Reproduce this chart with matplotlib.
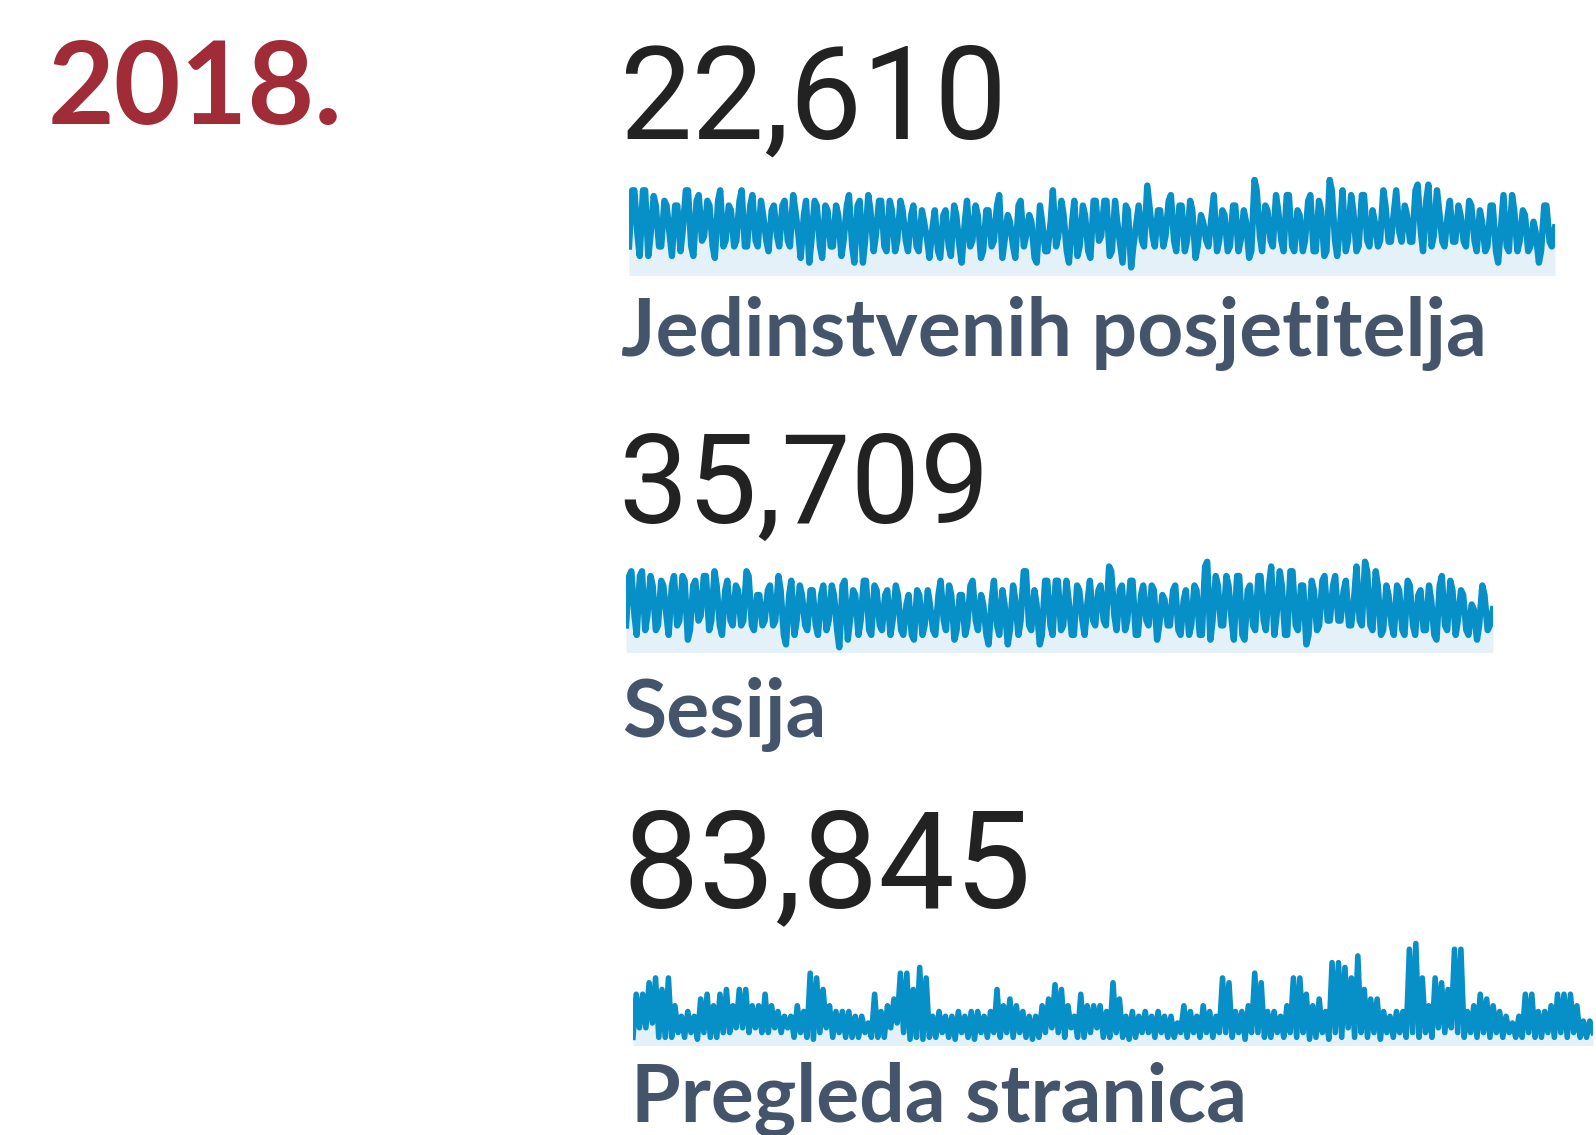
import matplotlib
matplotlib.use("Agg")
import matplotlib.pyplot as plt
import numpy as np

W, H = 1596, 1135

year_label = "2018."
totals = ["22,610", "35,709", "83,845"]
metric_names = ["Jedinstvenih posjetitelja", "Sesija", "Pregleda stranica"]

# sparklines: top / bottom of the line
# in each pixel column (relative height above the baseline)
visitors_hi = [86, 86, 86, 86, 80, 70, 75, 70, 70, 70, 86, 86, 75, 81, 75, 70, 75, 86, 70, 65,
               75, 86, 70, 81, 75, 60, 65, 70, 70, 75, 81, 65, 60, 75, 75, 70, 70, 65, 70, 60,
               70, 81, 70, 75, 81, 65, 75, 75, 75, 65, 75, 65, 60, 70, 65, 53, 48, 65, 60, 65,
               70, 60, 53, 75, 70, 60, 65, 65, 70, 81, 60, 53, 70, 75, 60, 53, 70, 53, 53, 86,
               75, 60, 53, 75, 70, 60, 75, 75,
               75, 75, 75, 53, 70, 65, 53, 70, 91, 70, 65, 65, 75, 81, 70, 70, 75, 65, 60, 53,
               60, 81, 65, 60, 70, 70, 65, 53, 97, 86, 70, 65, 81, 65, 81, 81, 65, 60, 75, 81,
               75, 65, 97, 86, 53, 86, 81, 65, 81, 81, 65, 53, 86, 70, 65, 86, 70, 60, 86, 92,
               75, 92, 86, 65, 60, 75, 70, 60, 75, 70, 65, 53, 70, 70, 53, 81, 81, 65, 65, 60,
               53, 42, 70, 70, 47]
visitors_lo = [27, 38, 17, 17, 38, 27, 27, 38, 17, 22, 43, 27, 17, 33, 38, 27, 15, 27, 33, 27,
               33, 27, 27, 33, 27, 33, 22, 38, 27, 33, 27, 38, 15, 10, 33, 27, 15, 27, 27, 17,
               33, 27, 10, 10, 33, 22, 38, 27, 22, 22, 33, 33, 22, 27, 22, 33, 15, 22, 15, 27,
               17, 27, 10, 27, 33, 15, 22, 27, 33, 15, 33, 27, 15, 27, 38, 15, 10, 22, 22, 27,
               38, 22, 10, 17, 27, 22, 15, 33,
               38, 17, 22, 27, 10, 5, 27, 33, 27, 38, 27, 27, 38, 33, 22, 22, 33, 15, 27, 33,
               27, 22, 33, 22, 27, 22, 33, 15, 22, 38, 22, 33, 27, 33, 22, 27, 22, 22, 33, 22,
               22, 17, 22, 33, 17, 22, 33, 22, 27, 33, 27, 27, 33, 32, 32, 42, 32, 32, 32, 42,
               22, 27, 38, 32, 27, 32, 32, 32, 27, 33, 22, 22, 27, 22, 10, 27, 22, 22, 32, 22,
               27, 10, 22, 32, 27]

sessions_hi = [77, 82, 77, 82, 77, 67, 72, 67, 67, 77, 77, 72, 67, 72, 77, 77, 82, 67, 62, 72,
               67, 62, 82, 77, 57, 57, 62, 67, 77, 62, 57, 72, 67, 57, 62, 62, 57, 67, 67, 57,
               67, 72, 62, 57, 72, 72, 67, 62, 57, 62, 67, 57, 47, 57, 62, 57, 62, 47, 57, 72,
               67, 57, 57, 57, 67, 72, 57, 47, 52, 72, 62, 47, 67, 52, 82, 82, 62, 47, 72, 72,
               72, 72, 72, 52, 67, 62, 52, 72, 62, 67, 87, 82, 62, 67, 72, 72, 57, 67, 67, 62,
               57, 52, 62, 67, 52, 62, 67, 62, 87, 92, 77, 67, 77, 67, 77, 77, 62, 67, 77, 77,
               67, 87, 82, 67, 82, 82, 67, 67, 72, 62, 72, 77, 67, 77, 62, 72, 57, 87, 92, 82,
               82, 67, 67, 57, 67, 62, 72, 67, 57, 62, 67, 52, 67, 77, 72, 62, 62, 57, 47, 42,
               67, 57, 42]
sessions_lo = [25, 35, 15, 20, 35, 20, 25, 35, 15, 25, 30, 10, 20, 30, 35, 20, 30, 25, 15, 30,
               25, 25, 30, 25, 20, 25, 30, 25, 30, 15, 5, 15, 30, 25, 20, 25, 15, 20, 30, 20,
               2, 10, 30, 15, 30, 20, 15, 25, 20, 15, 30, 20, 15, 15, 10, 15, 25, 20, 15, 30,
               20, 10, 20, 15, 25, 30, 20, 15, 5, 25, 15, 5, 20, 15, 30, 25, 20, 5, 15, 25,
               15, 20, 25, 15, 15, 30, 15, 30, 25, 30, 25, 35, 20, 20, 30, 15, 15, 30, 25, 10,
               25, 25, 25, 20, 15, 15, 25, 15, 15, 10, 30, 25, 25, 30, 10, 15, 10, 25, 20, 30,
               20, 15, 35, 15, 15, 25, 20, 5, 15, 20, 25, 30, 30, 30, 30, 25, 25, 30, 25, 25,
               20, 15, 20, 25, 15, 20, 15, 25, 15, 20, 20, 15, 10, 25, 20, 15, 30, 20, 15, 10,
               25, 20, 25]

# page views are spikier, read as a plain zig-zag
pageviews = [5, 50, 15, 50, 15, 62, 20, 67, 5, 55, 5, 67, 5, 38, 10, 27, 5, 32, 10, 27, 3, 45,
             10, 50, 5, 38, 5, 50, 10, 55, 10, 38, 15, 55, 15, 55, 10, 38, 15, 38, 10, 50, 10, 38,
             15, 32, 10, 27, 15, 27, 5, 38, 10, 32, 5, 72, 3, 67, 10, 55, 15, 38, 5, 32, 10, 32, 5,
             32, 5, 27, 5, 27, 10, 20, 5, 50, 5, 32, 5, 38, 15, 45, 20, 72, 10, 72, 3, 55, 5, 78, 3,
             67, 5, 27, 5, 32, 10, 27, 5, 27, 3, 32, 10, 27, 5, 32, 3, 32, 10, 27, 5, 32, 10, 55, 5,
             38, 10, 45, 5, 38, 10, 32, 5, 27, 3, 27, 5, 38, 10, 45, 15, 60, 10, 55, 5, 38, 15, 27,
             5, 50, 5, 38, 10,
             38, 15, 38, 5, 32, 5, 62, 10, 45, 5, 27, 3, 32, 5, 27, 10, 32, 10, 27, 5, 32, 10, 27,
             5, 27, 5, 20, 10, 38, 5, 32, 10, 27, 5, 38, 10, 32, 5, 27, 10, 67, 10, 62, 5, 32, 10,
             32, 3, 38, 10, 72, 10, 62, 5, 32, 5, 32, 10, 27, 5, 38, 10, 67, 5, 67, 10, 50, 3, 38,
             5, 45, 10, 32, 3, 83, 10, 83, 5, 78, 15, 67, 5, 90, 10, 55, 5, 45, 10, 45, 3, 32, 10,
             27, 5, 32, 10, 32, 5, 97, 10, 103, 5, 67, 10, 38, 5, 67, 15, 62, 10, 55, 15, 97, 10,
             97, 5, 32, 10, 38, 5, 50, 10, 45, 5, 38, 10, 32, 5, 27, 10, 20, 5, 27, 5, 50, 10, 50,
             5, 32, 5, 32, 10, 38, 5, 50, 10, 50, 5, 50, 10, 38, 5, 22, 5, 22, 10]

LINE_COLOR = "#078fc8"
FILL_COLOR = "#e4f1f8"
LABEL_COLOR = "#44546a"
YEAR_COLOR = "#a02c37"


def px_axes(fig, x0, y0, x1, y1):
    # pixel box (top-left origin) -> figure axes
    return fig.add_axes([x0 / W, 1 - y1 / H, (x1 - x0) / W, (y1 - y0) / H])


def px_text(fig, x, y, s, **kw):
    fig.text(x / W, 1 - y / H, s, ha="left", va="baseline", **kw)


def column_path(hi, lo):
    # walk each column lo->hi or hi->lo, alternating, so the stroke stays connected
    xs, ys = [], []
    for i in range(len(hi)):
        a, b = (lo[i], hi[i]) if i % 2 == 0 else (hi[i], lo[i])
        xs += [i + 0.2, i + 0.8]
        ys += [a, b]
    return np.array(xs), np.array(ys)


def sparkline(fig, box, x, vals, ytop, lw):
    ax = px_axes(fig, *box)
    ax.fill_between(x, vals, -5, color=FILL_COLOR, lw=0)
    ax.plot(x, vals, color=LINE_COLOR, lw=lw, solid_joinstyle="round")
    ax.set_xlim(x.min(), x.max())
    ax.set_ylim(-3, ytop)
    ax.axis("off")
    return ax


if __name__ == '__main__':
    fig = plt.figure(figsize=(W / 100, H / 100), dpi=100)

    px_text(fig, 48, 124, year_label, family="Lato", weight="bold", size=83, color=YEAR_COLOR)

    # big numbers
    px_text(fig, 619, 139, totals[0], family="Roboto", size=93, color="#222222")
    px_text(fig, 618, 523, totals[1], family="Roboto", size=89, color="#222222")
    px_text(fig, 623, 907, totals[2], family="Roboto", size=98, color="#222222")

    # sparklines
    x1, y1 = column_path(visitors_hi, visitors_lo)
    sparkline(fig, (629, 177, 1555, 275), x1, y1, 100, 4.6)
    x2, y2 = column_path(sessions_hi, sessions_lo)
    sparkline(fig, (626, 557, 1493, 652), x2, y2, 97, 4.6)
    x3 = np.arange(len(pageviews))
    sparkline(fig, (633, 932, 1593, 1045), x3, pageviews, 115, 4.0)

    # labels
    px_text(fig, 621, 356, metric_names[0], family="Lato", weight="bold", size=58, color=LABEL_COLOR)
    px_text(fig, 622, 737, metric_names[1], family="Lato", weight="bold", size=58, color=LABEL_COLOR)
    px_text(fig, 631, 1121, metric_names[2], family="Lato", weight="bold", size=58, color=LABEL_COLOR)

    plt.savefig("out.png", dpi=100)
